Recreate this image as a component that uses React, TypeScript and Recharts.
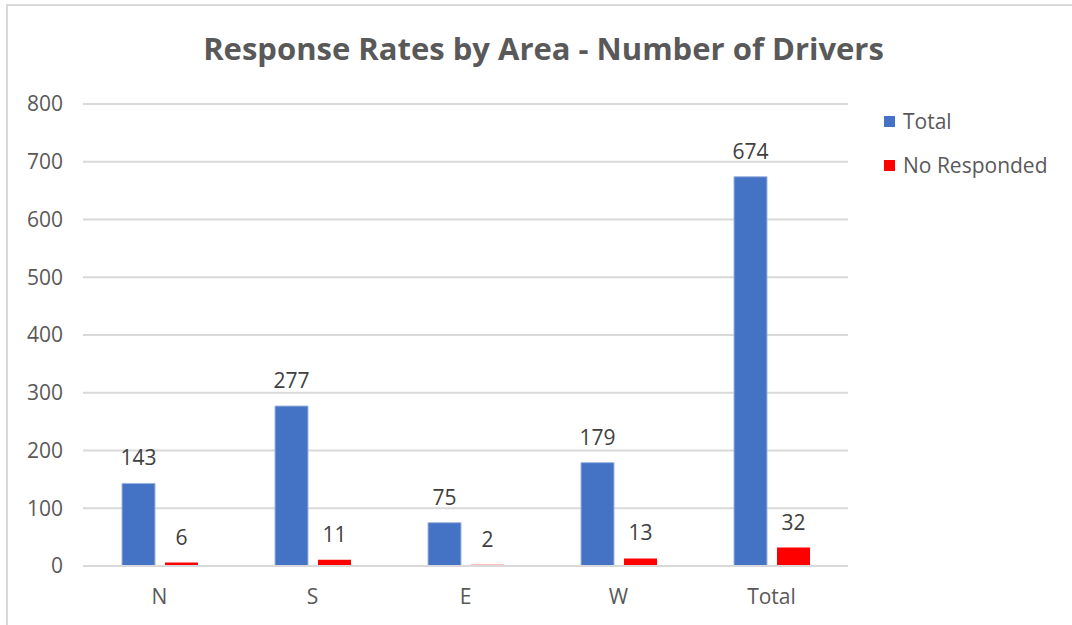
import { BarChart, Bar, XAxis, YAxis, CartesianGrid, LabelList } from "recharts";

const areas = ["N", "S", "E", "W", "Total"];
const totals = [143, 277, 75, 179, 674];
const noResponded = [6, 11, 2, 13, 32];
const yTicks = [0, 100, 200, 300, 400, 500, 600, 700, 800];

const seriesInfo = [
  { key: "total", name: "Total", color: "#4472C4" },
  { key: "noResp", name: "No Responded", color: "#FF0000" },
];

const FONT = "'Open Sans', 'DejaVu Sans', sans-serif";

function LegendBox() {
  return (
    <div style={{ position: "absolute", left: 884, top: 99, fontFamily: FONT }}>
      {seriesInfo.map((s) => (
        <div key={s.key} style={{ display: "flex", alignItems: "center", height: 44 }}>
          <div style={{ width: 11, height: 11, background: s.color, marginRight: 8 }} />
          <span style={{ fontSize: 21, color: "#595959" }}>{s.name}</span>
        </div>
      ))}
    </div>
  );
}

export default function App() {
  const data = areas.map((a, i) => ({
    area: a,
    total: totals[i],
    noResp: noResponded[i],
  }));

  return (
    <div style={{ position: "fixed", left: 0, top: 0, width: 1072, height: 625, background: "#fff" }}>
      {/* chart frame */}
      <div
        style={{
          position: "absolute",
          left: 6,
          top: 4,
          width: 1080,
          height: 640,
          borderLeft: "2px solid #d9d9d9",
          borderTop: "2px solid #d9d9d9",
        }}
      />
      <div
        style={{
          position: "absolute",
          top: 27,
          left: 0,
          width: 1087,
          textAlign: "center",
          fontFamily: FONT,
          fontWeight: 700,
          fontSize: 31,
          color: "#595959",
        }}
      >
        Response Rates by Area - Number of Drivers
      </div>
      <div style={{ position: "absolute", left: 0, top: 0 }}>
        <BarChart
          width={1072}
          height={625}
          data={data}
          margin={{ top: 104, right: 224, bottom: 29, left: 0 }}
          barGap={10}
          barSize={33}
        >
          <CartesianGrid vertical={false} stroke="#d9d9d9" strokeWidth={2} />
          <XAxis
            dataKey="area"
            height={30}
            axisLine={{ stroke: "#d9d9d9", strokeWidth: 2 }}
            tickLine={false}
            tickSize={0}
            tickMargin={23}
            tick={{ fill: "#595959", fontSize: 21, fontFamily: FONT }}
          />
          <YAxis
            width={83}
            domain={[0, 800]}
            ticks={yTicks}
            axisLine={false}
            tickLine={false}
            tickSize={0}
            tickMargin={20}
            tick={{ fill: "#595959", fontSize: 21, fontFamily: FONT }}
          />
          <Bar dataKey="total" name="Total" fill="#4472C4" stroke="#9DB5E0" strokeWidth={1} isAnimationActive={false}>
            <LabelList dataKey="total" position="top" offset={18} fill="#404040" fontSize={21} fontFamily={FONT} />
          </Bar>
          <Bar dataKey="noResp" name="No Responded" fill="#FF0000" isAnimationActive={false}>
            <LabelList dataKey="noResp" position="top" offset={18} fill="#404040" fontSize={21} fontFamily={FONT} />
          </Bar>
        </BarChart>
      </div>
      <LegendBox />
    </div>
  );
}
